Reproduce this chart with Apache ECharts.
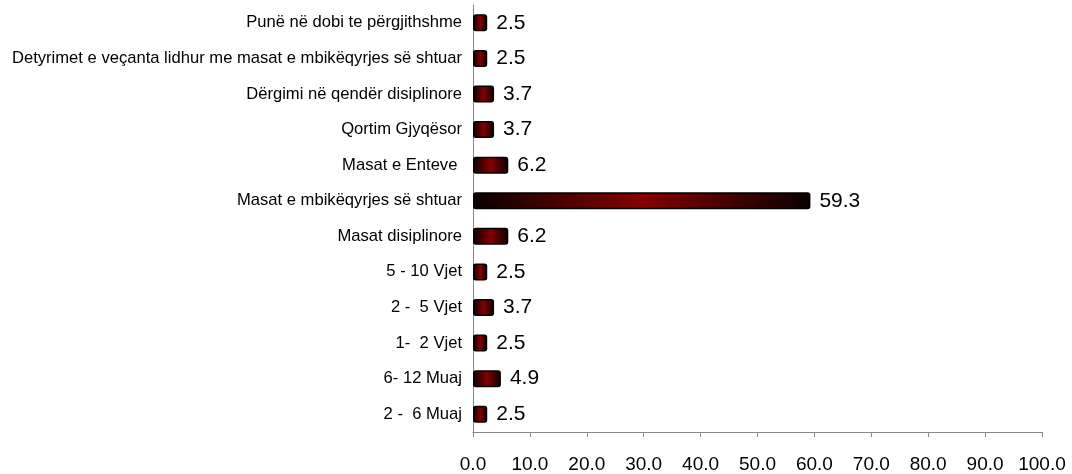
<!DOCTYPE html>
<html>
<head>
<meta charset="utf-8">
<script src="https://cdn.jsdelivr.net/npm/echarts@6/dist/echarts.min.js"></script>
<style>
  html, body { margin: 0; padding: 0; background: #fff; }
  #chart { width: 1072px; height: 474px; }
</style>
</head>
<body>
<div id="chart"></div>
<script>
// kategoritë nga poshtë lart
const categories = [
  '2 -  6 Muaj',
  '6- 12 Muaj',
  '1-  2 Vjet',
  '2 -  5 Vjet',
  '5 - 10 Vjet',
  'Masat disiplinore',
  'Masat e mbikëqyrjes së shtuar',
  'Masat e Enteve ',
  'Qortim Gjyqësor',
  'Dërgimi në qendër disiplinore',
  'Detyrimet e veçanta lidhur me masat e mbikëqyrjes së shtuar',
  'Punë në dobi te përgjithshme'
]
const values = [2.5, 4.9, 2.5, 3.7, 2.5, 6.2, 59.3, 6.2, 3.7, 3.7, 2.5, 2.5]
const xMin = 0
const xMax = 100
const xStep = 10

const chart = echarts.init(document.getElementById('chart'))

const barColor = new echarts.graphic.LinearGradient(0, 0, 1, 0, [
  { offset: 0, color: '#0a0000' },
  { offset: 0.5, color: '#850000' },
  { offset: 1, color: '#0a0000' }
])

chart.setOption({
  animation: false,
  grid: { left: 473, right: 30, top: 5, bottom: 42 },
  xAxis: {
    type: 'value',
    min: xMin, max: xMax, interval: xStep,
    axisLine: { show: true, lineStyle: { color: '#888', width: 1 } },
    axisTick: { show: true, length: 5, lineStyle: { color: '#888' } },
    splitLine: { show: false },
    axisLabel: {
      margin: 23,
      color: '#000',
      fontFamily: 'Liberation Sans, Arial',
      fontSize: 19,
      formatter: v => v.toFixed(1)
    }
  },
  yAxis: {
    type: 'category',
    data: categories,
    axisLine: { show: true, lineStyle: { color: '#888', width: 1 } },
    axisTick: { show: false },
    axisLabel: {
      margin: 11,
      color: '#000',
      fontFamily: 'Liberation Sans, Arial',
      fontSize: 16.6
    }
  },
  series: [{
    type: 'bar',
    data: values,
    barWidth: 17,
    itemStyle: {
      color: barColor,
      borderColor: '#000',
      borderWidth: 1.5,
      borderRadius: 2
    },
    label: {
      show: true,
      position: 'right',
      distance: 9,
      color: '#000',
      fontFamily: 'Liberation Sans, Arial',
      fontSize: 21,
      formatter: p => p.value.toFixed(1)
    }
  }]
})
</script>
</body>
</html>
